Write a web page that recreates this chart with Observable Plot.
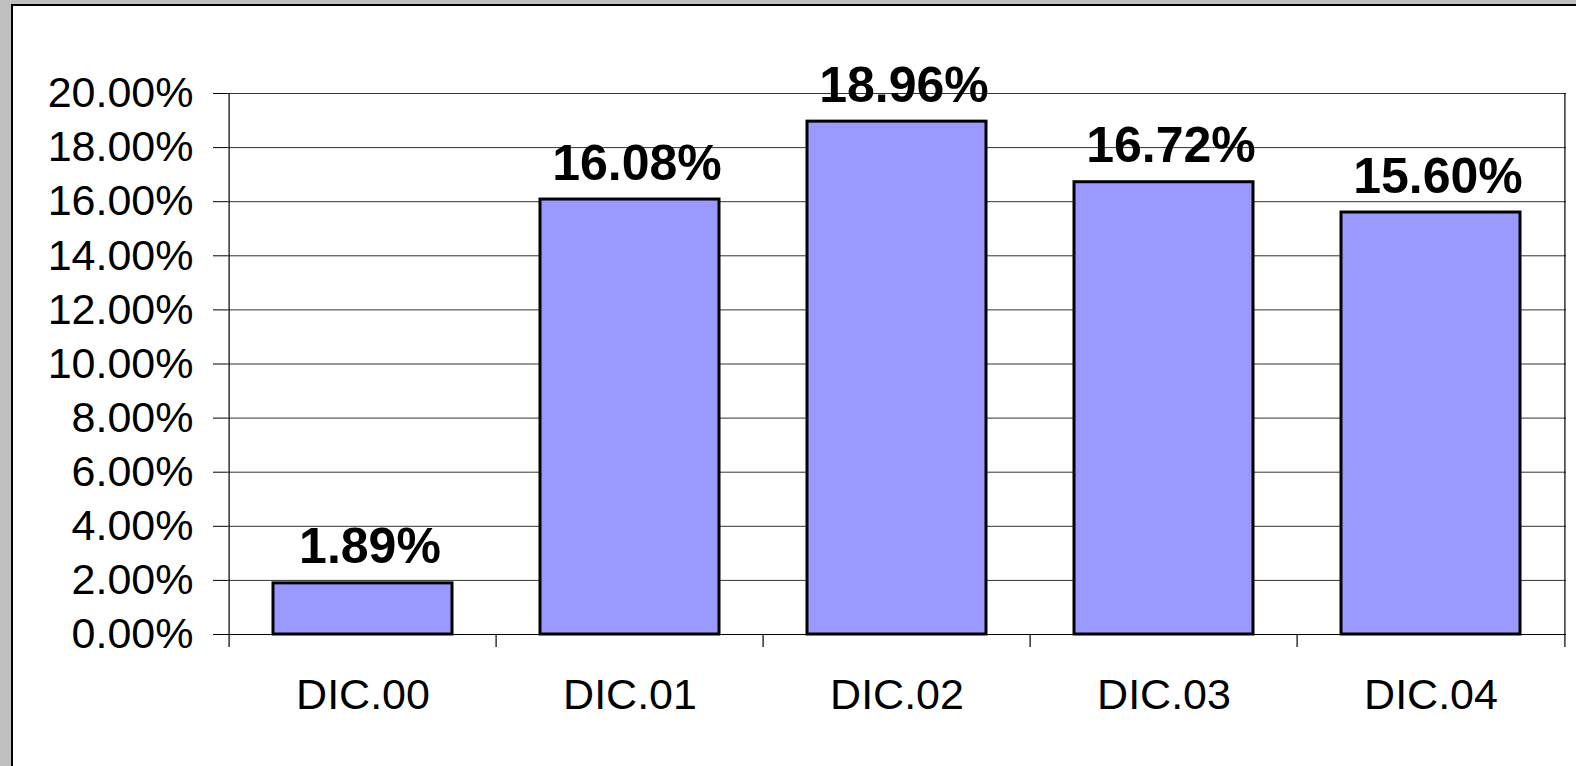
<!DOCTYPE html>
<html>
<head>
<meta charset="utf-8">
<script src="https://cdn.jsdelivr.net/npm/d3@7"></script>
<script src="https://cdn.jsdelivr.net/npm/@observablehq/plot@0.6"></script>
<style>
  html, body { margin: 0; padding: 0; width: 1576px; height: 766px; overflow: hidden; background: #c0c0c0; }
  #frame { position: absolute; left: 11px; top: 4px; width: 1565px; height: 762px; background: #fff; border-left: 2px solid #000; border-top: 2px solid #000; box-sizing: border-box; }
  #chart { position: absolute; left: 0; top: 0; }
</style>
</head>
<body>
<div id="frame"></div>
<div id="chart"></div>
<script>
const categories = ["DIC.00", "DIC.01", "DIC.02", "DIC.03", "DIC.04"];
const values = [1.89, 16.08, 18.96, 16.72, 15.60];
const yTicks = [0, 2, 4, 6, 8, 10, 12, 14, 16, 18, 20];

const data = categories.map((c, i) => ({cat: c, v: values[i]}));

const W = 1576, H = 766, ML = 227, MR = 10, MT = 93, MB = 132;
const step = (W - ML - MR) / categories.length;
const fmt = d => d.toFixed(2) + "%";
const first = categories[0], last = categories[categories.length - 1];

const chart = Plot.plot({
  width: W,
  height: H,
  marginLeft: ML,
  marginRight: MR,
  marginTop: MT,
  marginBottom: MB,
  style: {background: "transparent", fontFamily: "'Liberation Sans', Arial, sans-serif", fontSize: "43px", color: "#000"},
  x: {domain: categories, paddingInner: 0.33, paddingOuter: 0.165, label: null, tickSize: 0, tickPadding: 44},
  y: {domain: [0, 20], ticks: yTicks, tickFormat: fmt, label: null, tickSize: 14, tickPadding: 20},
  marks: [
    Plot.ruleY(yTicks, {y: d => d, stroke: "#333", strokeWidth: 1}),
    Plot.ruleX([first], {x: d => d, dx: -step / 2, stroke: "#000", strokeWidth: 1.2}),
    Plot.ruleX([last], {x: d => d, dx: step / 2, stroke: "#000", strokeWidth: 1.2}),
    Plot.ruleX(categories, {x: d => d, dx: -step / 2, y1: 0, y2: 0, insetBottom: -13, stroke: "#000", strokeWidth: 1.2}),
    Plot.ruleX([last], {x: d => d, dx: step / 2, y1: 0, y2: 0, insetBottom: -13, stroke: "#000", strokeWidth: 1.2}),
    Plot.ruleY([0], {stroke: "#000", strokeWidth: 1.2}),
    Plot.barY(data, {x: "cat", y: "v", fill: "#9999ff", stroke: "#000", strokeWidth: 3}),
    Plot.text(data, {x: "cat", y: "v", text: d => fmt(d.v), fontSize: 50, fontWeight: "bold", lineAnchor: "bottom", dy: -20, dx: 7, fill: "#000"})
  ]
});
document.getElementById("chart").appendChild(chart);
</script>
</body>
</html>
